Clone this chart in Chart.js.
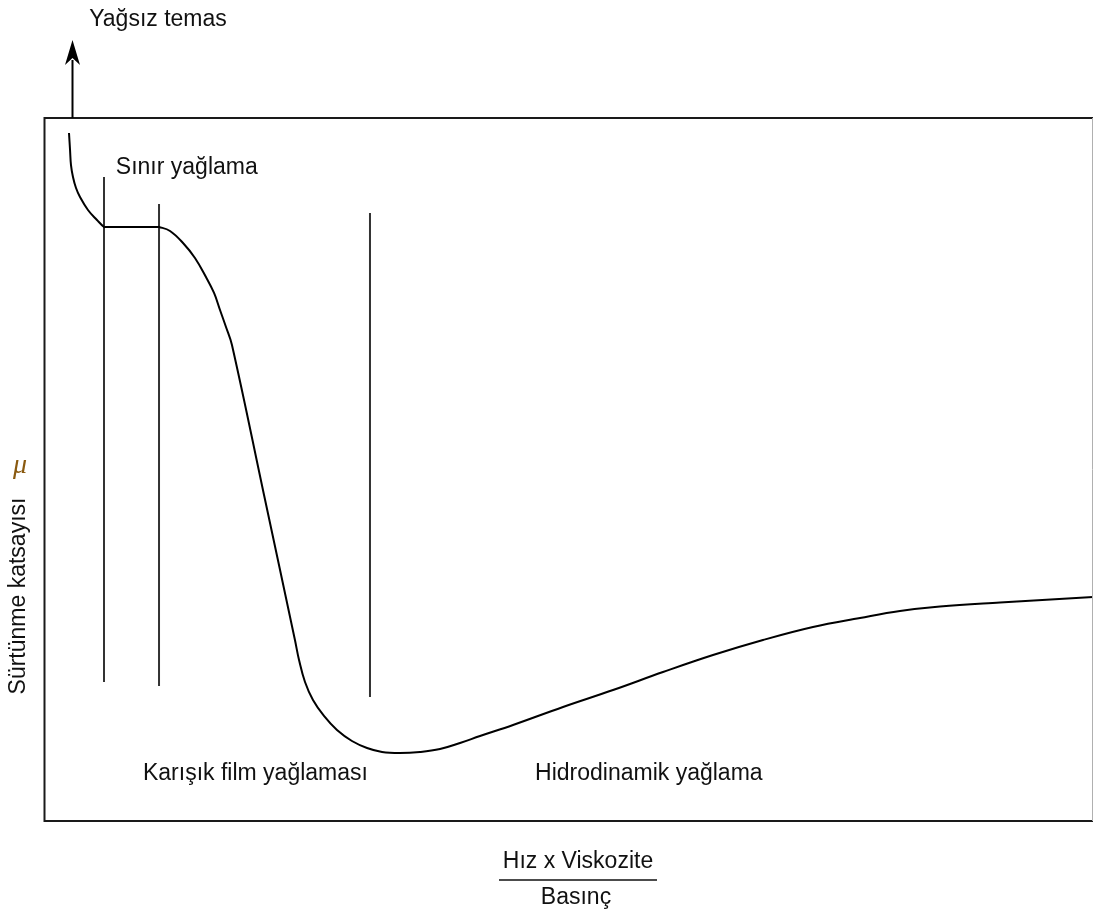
<!DOCTYPE html>
<html>
<head>
<meta charset="utf-8">
<script src="https://cdn.jsdelivr.net/npm/chart.js@4"></script>
<style>
  html, body { margin: 0; padding: 0; background: #fff; }
  #chart { display: block; }
</style>
</head>
<body>
<canvas id="chart" width="1094" height="912"></canvas>
<script>
// Stribeck curve, arbitrary units (0-100 on both axes)
const curveX = [2.29, 2.39, 2.48, 2.67, 2.96, 3.34, 4.10, 4.96, 5.63, 5.82, 10.69, 10.88, 11.93, 13.17, 14.31, 15.36, 16.13, 16.70, 17.27, 17.84,
  20.90, 23.85, 24.24, 24.81, 25.57, 26.62, 27.86, 29.29, 30.73, 32.16, 33.87, 35.78, 37.69, 39.60, 41.51, 44.66,
  49.43, 54.20, 58.97, 63.74, 68.51, 73.28, 77.77, 81.58, 85.40, 91.13, 100];
const curveY = [97.87, 95.45, 93.31, 91.61, 90.04, 88.76, 86.91, 85.49, 84.50, 84.50, 84.50, 84.50, 83.93, 82.22, 80.09, 77.38, 75.11, 72.69, 70.27, 67.71,
  46.37, 25.75, 22.90, 19.77, 17.21, 14.94, 12.94, 11.38, 10.38, 9.82, 9.67, 9.82, 10.24, 11.10, 12.09, 13.66,
  16.22, 18.63, 21.19, 23.61, 25.75, 27.60, 28.88, 29.87, 30.51, 31.08, 31.86];

// regime boundary lines
const dividerX = [5.63, 10.88, 31.01];
const dividerTop = [91.61, 87.77, 86.49];
const dividerBottom = [19.77, 19.20, 17.64];

const regionLabels = ["Sınır yağlama", "Karışık film yağlaması", "Hidrodinamik yağlama"];
const regionLabelX = [6.76, 9.35, 46.76];
const regionLabelY = [92.9, 6.8, 6.8];

const topLabel = "Yağsız temas";
const yTitle = "Sürtünme katsayısı";
const yTitleSymbol = "μ";
const xTitleTop = "Hız x Viskozite";
const xTitleBottom = "Basınç";

const FONT = '23px "Liberation Sans", Arial, sans-serif';

const datasets = [{
  data: curveX.map((x, i) => ({ x: x, y: curveY[i] })),
  borderColor: "#000",
  borderWidth: 2,
  pointRadius: 0,
  tension: 0.4,
  clip: false
}];
dividerX.forEach((x, i) => {
  datasets.push({
    data: [{ x: x, y: dividerTop[i] }, { x: x, y: dividerBottom[i] }],
    borderColor: "#333",
    borderWidth: 2,
    pointRadius: 0,
    clip: false
  });
});

const decorations = {
  id: "decorations",
  afterDraw(chart) {
    const ctx = chart.ctx;
    const a = chart.chartArea;
    const xs = chart.scales.x, ys = chart.scales.y;
    ctx.save();

    // frame
    ctx.strokeStyle = "#1a1a1a";
    ctx.lineWidth = 2;
    ctx.beginPath();
    ctx.moveTo(a.right, a.top);
    ctx.lineTo(a.left - 0.5, a.top);
    ctx.lineTo(a.left - 0.5, a.bottom);
    ctx.lineTo(a.right, a.bottom);
    ctx.stroke();
    ctx.strokeStyle = "#b0b0b0";
    ctx.lineWidth = 1;
    ctx.beginPath();
    ctx.moveTo(a.right - 0.5, a.top);
    ctx.lineTo(a.right - 0.5, a.bottom);
    ctx.stroke();

    // arrow out of the top for "Yağsız temas"
    const ax = 72.5;
    ctx.strokeStyle = "#000";
    ctx.lineWidth = 2;
    ctx.beginPath();
    ctx.moveTo(ax, a.top);
    ctx.lineTo(ax, 60);
    ctx.stroke();
    ctx.fillStyle = "#000";
    ctx.beginPath();
    ctx.moveTo(ax, 40);
    ctx.lineTo(ax + 7.5, 65);
    ctx.lineTo(ax, 58);
    ctx.lineTo(ax - 7.5, 65);
    ctx.closePath();
    ctx.fill();

    ctx.font = FONT;
    ctx.fillStyle = "#111";
    ctx.textBaseline = "middle";
    ctx.textAlign = "center";
    ctx.fillText(topLabel, 158, 20);

    ctx.textAlign = "left";
    regionLabels.forEach((t, i) => {
      ctx.fillText(t, xs.getPixelForValue(regionLabelX[i]), ys.getPixelForValue(regionLabelY[i]));
    });

    // x title as a fraction
    ctx.textAlign = "center";
    ctx.fillText(xTitleTop, 578, 862);
    ctx.fillText(xTitleBottom, 576, 898);
    ctx.strokeStyle = "#111";
    ctx.lineWidth = 1.5;
    ctx.beginPath();
    ctx.moveTo(499, 880);
    ctx.lineTo(657, 880);
    ctx.stroke();

    // y title
    ctx.save();
    ctx.translate(19, 596);
    ctx.rotate(-Math.PI / 2);
    ctx.fillText(yTitle, 0, 0);
    ctx.restore();
    ctx.font = 'italic 28px "Liberation Serif", "Times New Roman", serif';
    ctx.fillStyle = "#8a5a10";
    ctx.fillText(yTitleSymbol, 20, 466);

    ctx.restore();
  }
};

new Chart(document.getElementById("chart"), {
  type: "line",
  data: { datasets: datasets },
  options: {
    responsive: false,
    animation: false,
    events: [],
    layout: { padding: { left: 45, top: 118, right: 1, bottom: 91 } },
    plugins: { legend: { display: false }, tooltip: { enabled: false } },
    scales: {
      x: { type: "linear", min: 0, max: 100, display: false },
      y: { type: "linear", min: 0, max: 100, display: false }
    }
  },
  plugins: [decorations]
});
</script>
</body>
</html>
